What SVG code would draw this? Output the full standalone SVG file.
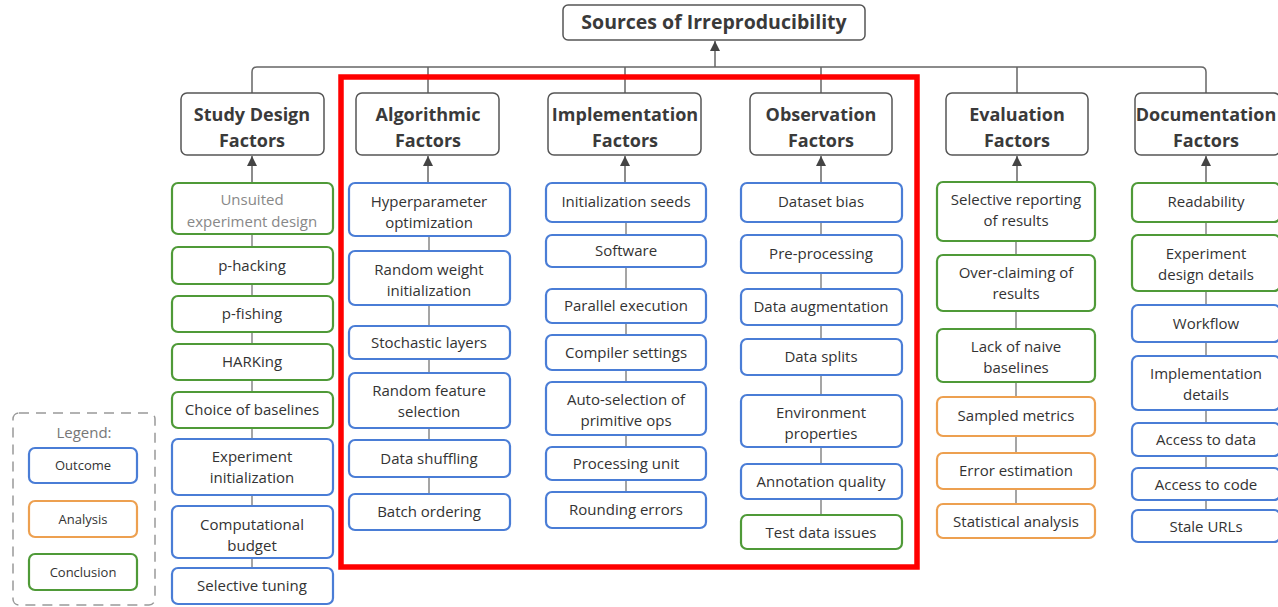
<svg xmlns="http://www.w3.org/2000/svg" width="1278" height="607" viewBox="0 0 1278 607">
<defs>
<marker id="arr" viewBox="0 0 10 10" refX="10" refY="5" markerWidth="10" markerHeight="10" markerUnits="userSpaceOnUse" orient="auto"><path d="M0,0 L10,5 L0,10 z" fill="#444"/></marker>
<style>
text{font-family:"Open Sans","Noto Sans","Liberation Sans",sans-serif;fill:#333;text-anchor:middle}
.t{font-size:15px}
.h{font-size:18px;font-weight:bold;fill:#3a3a3a}
.ttl{font-size:19.5px;font-weight:bold;fill:#3a3a3a}
.cat{fill:#fff;stroke:#555;stroke-width:1.5}
.b{fill:#fff;stroke:#4a7dd6;stroke-width:2.2}
.g{fill:#fff;stroke:#4f9a38;stroke-width:2.2}
.o{fill:#fff;stroke:#eda050;stroke-width:2.2}
.ln{stroke:#666;stroke-width:1.5;fill:none}
.sl{stroke:#888;stroke-width:1.5;fill:none}
.lg{font-size:13px}
</style>
</defs>
<rect width="1278" height="607" fill="#fff"/>

<g id="connectors">
<path class="ln" d="M252,93 V72 Q252,67 257,67 H1201 Q1206,67 1206,72 V93"/>
<path class="ln" d="M428,67 V93 M625,67 V93 M821,67 V93 M1017,67 V93"/>
<line class="ln" x1="715" y1="67" x2="715" y2="41" marker-end="url(#arr)"/>
<line class="ln" x1="252" y1="183" x2="252" y2="156" marker-end="url(#arr)"/>
<line class="ln" x1="428" y1="183" x2="428" y2="156" marker-end="url(#arr)"/>
<line class="ln" x1="625" y1="183" x2="625" y2="156" marker-end="url(#arr)"/>
<line class="ln" x1="821" y1="183" x2="821" y2="156" marker-end="url(#arr)"/>
<line class="ln" x1="1017" y1="182" x2="1017" y2="156" marker-end="url(#arr)"/>
<line class="ln" x1="1206" y1="183" x2="1206" y2="156" marker-end="url(#arr)"/>
<path class="sl" d="M252,234 V247 M252,284 V296 M252,332 V344 M252,380 V392 M252,428 V439 M252,495 V506 M252,558 V568"/>
<path class="sl" d="M429,236 V251 M429,305 V326 M429,359 V373 M429,428 V440 M429,477 V494"/>
<path class="sl" d="M626,222 V235 M626,267 V289 M626,323 V335 M626,370 V382 M626,435 V447 M626,480 V492"/>
<path class="sl" d="M821,222 V235 M821,273 V289 M821,325 V339 M821,375 V395 M821,447 V464 M821,499 V515"/>
<path class="sl" d="M1016,241 V255 M1016,311 V329 M1016,382 V397 M1016,436 V453 M1016,489 V504"/>
<path class="sl" d="M1206,222 V235 M1206,291 V305 M1206,342 V356 M1206,410 V423 M1206,456 V468 M1206,500 V510"/>
</g>

<g id="title"><rect class="cat" x="563" y="5" width="302" height="35" rx="5"/><text class="ttl" x="714" y="29">Sources of Irreproducibility</text></g>

<g id="cat-study"><rect class="cat" x="181" y="93" width="143" height="62" rx="6"/><text class="h" x="252" y="121">Study Design</text><text class="h" x="252" y="147">Factors</text></g>
<g id="cat-algo"><rect class="cat" x="356" y="93" width="143" height="62" rx="6"/><text class="h" x="428" y="121">Algorithmic</text><text class="h" x="428" y="147">Factors</text></g>
<g id="cat-impl"><rect class="cat" x="548" y="93" width="153" height="62" rx="6"/><text class="h" x="625" y="121">Implementation</text><text class="h" x="625" y="147">Factors</text></g>
<g id="cat-obs"><rect class="cat" x="750" y="93" width="142" height="62" rx="6"/><text class="h" x="821" y="121">Observation</text><text class="h" x="821" y="147">Factors</text></g>
<g id="cat-eval"><rect class="cat" x="946" y="93" width="142" height="62" rx="6"/><text class="h" x="1017" y="121">Evaluation</text><text class="h" x="1017" y="147">Factors</text></g>
<g id="cat-doc"><rect class="cat" x="1135" y="93" width="145" height="62" rx="6"/><text class="h" x="1206" y="121">Documentation</text><text class="h" x="1206" y="147">Factors</text></g>

<g id="s1"><rect class="g" x="172" y="183" width="161" height="51" rx="6"/><text class="t" x="252" y="205" style="fill:#888">Unsuited</text><text class="t" x="252" y="227" style="fill:#888">experiment design</text></g>
<g id="s2"><rect class="g" x="172" y="247" width="161" height="37" rx="6"/><text class="t" x="252" y="271">p-hacking</text></g>
<g id="s3"><rect class="g" x="172" y="296" width="161" height="36" rx="6"/><text class="t" x="252" y="319">p-fishing</text></g>
<g id="s4"><rect class="g" x="172" y="344" width="161" height="36" rx="6"/><text class="t" x="252" y="367">HARKing</text></g>
<g id="s5"><rect class="g" x="172" y="392" width="161" height="36" rx="6"/><text class="t" x="252" y="415">Choice of baselines</text></g>
<g id="s6"><rect class="b" x="172" y="439" width="161" height="56" rx="6"/><text class="t" x="252" y="462">Experiment</text><text class="t" x="252" y="483">initialization</text></g>
<g id="s7"><rect class="b" x="172" y="506" width="161" height="52" rx="6"/><text class="t" x="252" y="530">Computational</text><text class="t" x="252" y="551">budget</text></g>
<g id="s8"><rect class="b" x="172" y="568" width="161" height="36" rx="6"/><text class="t" x="252" y="591">Selective tuning</text></g>

<g id="a1"><rect class="b" x="349" y="183" width="161" height="53" rx="6"/><text class="t" x="429" y="207">Hyperparameter</text><text class="t" x="429" y="228">optimization</text></g>
<g id="a2"><rect class="b" x="349" y="251" width="161" height="54" rx="6"/><text class="t" x="429" y="275">Random weight</text><text class="t" x="429" y="296">initialization</text></g>
<g id="a3"><rect class="b" x="349" y="326" width="161" height="33" rx="6"/><text class="t" x="429" y="348">Stochastic layers</text></g>
<g id="a4"><rect class="b" x="349" y="373" width="161" height="55" rx="6"/><text class="t" x="429" y="396">Random feature</text><text class="t" x="429" y="417">selection</text></g>
<g id="a5"><rect class="b" x="349" y="440" width="161" height="37" rx="6"/><text class="t" x="429" y="464">Data shuffling</text></g>
<g id="a6"><rect class="b" x="349" y="494" width="161" height="36" rx="6"/><text class="t" x="429" y="517">Batch ordering</text></g>

<g id="i1"><rect class="b" x="546" y="183" width="160" height="39" rx="6"/><text class="t" x="626" y="207">Initialization seeds</text></g>
<g id="i2"><rect class="b" x="546" y="235" width="160" height="32" rx="6"/><text class="t" x="626" y="256">Software</text></g>
<g id="i3"><rect class="b" x="546" y="289" width="160" height="34" rx="6"/><text class="t" x="626" y="311">Parallel execution</text></g>
<g id="i4"><rect class="b" x="546" y="335" width="160" height="35" rx="6"/><text class="t" x="626" y="358">Compiler settings</text></g>
<g id="i5"><rect class="b" x="546" y="382" width="160" height="53" rx="6"/><text class="t" x="626" y="405">Auto-selection of</text><text class="t" x="626" y="426">primitive ops</text></g>
<g id="i6"><rect class="b" x="546" y="447" width="160" height="33" rx="6"/><text class="t" x="626" y="469">Processing unit</text></g>
<g id="i7"><rect class="b" x="546" y="492" width="160" height="36" rx="6"/><text class="t" x="626" y="515">Rounding errors</text></g>

<g id="o1"><rect class="b" x="741" y="183" width="161" height="39" rx="6"/><text class="t" x="821" y="207">Dataset bias</text></g>
<g id="o2"><rect class="b" x="741" y="235" width="161" height="38" rx="6"/><text class="t" x="821" y="259">Pre-processing</text></g>
<g id="o3"><rect class="b" x="741" y="289" width="161" height="36" rx="6"/><text class="t" x="821" y="312">Data augmentation</text></g>
<g id="o4"><rect class="b" x="741" y="339" width="161" height="36" rx="6"/><text class="t" x="821" y="362">Data splits</text></g>
<g id="o5"><rect class="b" x="741" y="395" width="161" height="52" rx="6"/><text class="t" x="821" y="418">Environment</text><text class="t" x="821" y="439">properties</text></g>
<g id="o6"><rect class="b" x="741" y="464" width="161" height="35" rx="6"/><text class="t" x="821" y="487">Annotation quality</text></g>
<g id="o7"><rect class="g" x="741" y="515" width="161" height="34" rx="6"/><text class="t" x="821" y="538">Test data issues</text></g>

<g id="e1"><rect class="g" x="937" y="182" width="158" height="59" rx="6"/><text class="t" x="1016" y="205">Selective reporting</text><text class="t" x="1016" y="226">of results</text></g>
<g id="e2"><rect class="g" x="937" y="255" width="158" height="56" rx="6"/><text class="t" x="1016" y="278">Over-claiming of</text><text class="t" x="1016" y="299">results</text></g>
<g id="e3"><rect class="g" x="937" y="329" width="158" height="53" rx="6"/><text class="t" x="1016" y="352">Lack of naive</text><text class="t" x="1016" y="373">baselines</text></g>
<g id="e4"><rect class="o" x="937" y="397" width="158" height="39" rx="6"/><text class="t" x="1016" y="421">Sampled metrics</text></g>
<g id="e5"><rect class="o" x="937" y="453" width="158" height="36" rx="6"/><text class="t" x="1016" y="476">Error estimation</text></g>
<g id="e6"><rect class="o" x="937" y="504" width="158" height="34" rx="6"/><text class="t" x="1016" y="527">Statistical analysis</text></g>

<g id="d1"><rect class="g" x="1132" y="183" width="148" height="39" rx="6"/><text class="t" x="1206" y="207">Readability</text></g>
<g id="d2"><rect class="g" x="1132" y="235" width="148" height="56" rx="6"/><text class="t" x="1206" y="259">Experiment</text><text class="t" x="1206" y="280">design details</text></g>
<g id="d3"><rect class="b" x="1132" y="305" width="148" height="37" rx="6"/><text class="t" x="1206" y="329">Workflow</text></g>
<g id="d4"><rect class="b" x="1132" y="356" width="148" height="54" rx="6"/><text class="t" x="1206" y="379">Implementation</text><text class="t" x="1206" y="400">details</text></g>
<g id="d5"><rect class="b" x="1132" y="423" width="148" height="33" rx="6"/><text class="t" x="1206" y="445">Access to data</text></g>
<g id="d6"><rect class="b" x="1132" y="468" width="148" height="32" rx="6"/><text class="t" x="1206" y="490">Access to code</text></g>
<g id="d7"><rect class="b" x="1132" y="510" width="148" height="32" rx="6"/><text class="t" x="1206" y="532">Stale URLs</text></g>

<g id="legend">
<rect x="13" y="413" width="142" height="192" rx="6" fill="none" stroke="#999" stroke-width="1.5" stroke-dasharray="10,7"/>
<text class="t" x="84" y="438" style="fill:#777">Legend:</text>
<rect class="b" x="29" y="448" width="108" height="35" rx="6"/><text class="lg" x="83" y="470">Outcome</text>
<rect class="o" x="29" y="501" width="108" height="36" rx="6"/><text class="lg" x="83" y="524">Analysis</text>
<rect class="g" x="29" y="554" width="108" height="36" rx="6"/><text class="lg" x="83" y="577">Conclusion</text>
</g>

<rect id="highlight" x="341" y="77" width="576" height="490" fill="none" stroke="#ff0000" stroke-width="5.5"/>
</svg>
